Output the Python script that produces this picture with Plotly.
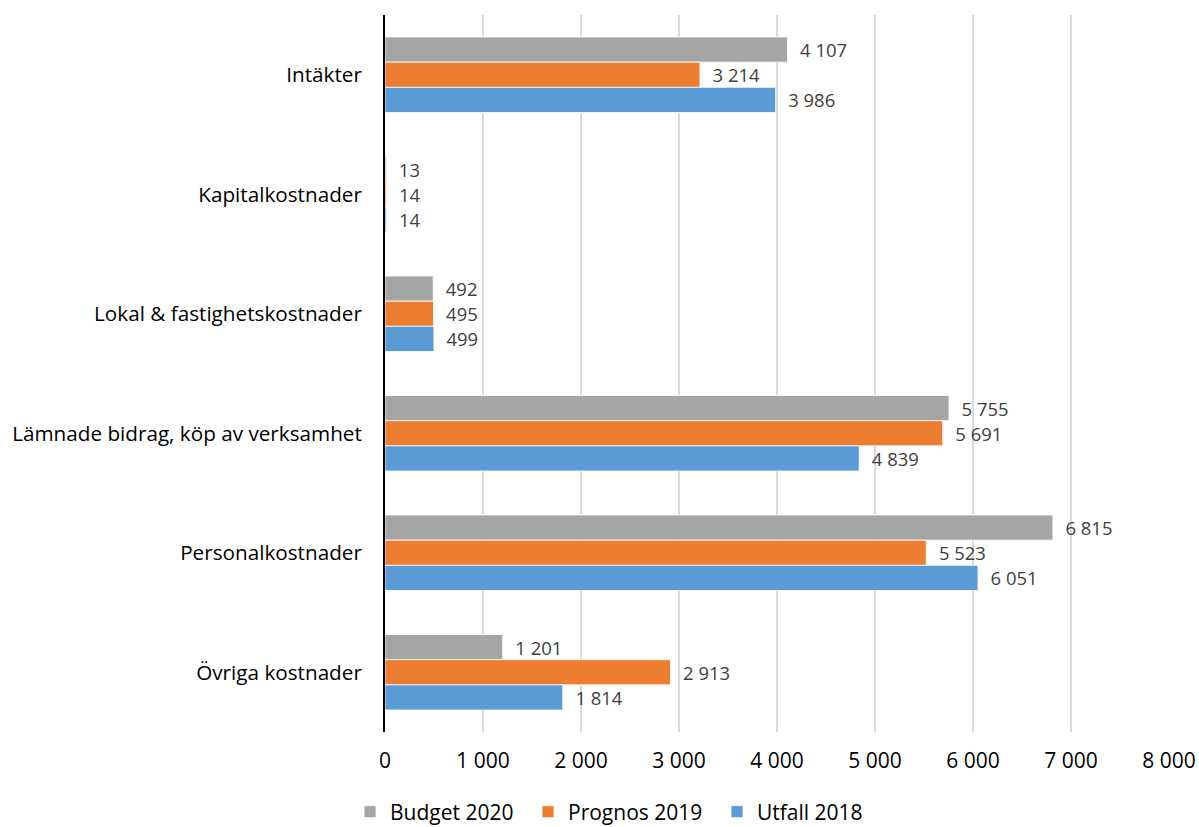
import plotly.graph_objects as go

categories = ["Intäkter", "Kapitalkostnader", "Lokal & fastighetskostnader",
              "Lämnade bidrag, köp av verksamhet", "Personalkostnader", "Övriga kostnader"]
budget_2020 = [4107, 13, 492, 5755, 6815, 1201]
prognos_2019 = [3214, 14, 495, 5691, 5523, 2913]
utfall_2018 = [3986, 14, 499, 4839, 6051, 1814]

series = [("Budget 2020", budget_2020, "#A5A5A5", "legend", 350),
          ("Prognos 2019", prognos_2019, "#ED7D31", "legend2", 528),
          ("Utfall 2018", utfall_2018, "#5B9BD5", "legend3", 717)]

FONT = "Open Sans, sans-serif"
L, R, T, B = 385, 30, 15, 95
W, H = 1199, 827
PW = W - L - R

fig = go.Figure()
legends = {}
for name, vals, color, leg, px in series:
    fig.add_trace(go.Bar(
        y=categories, x=vals, name=name, orientation="h",
        marker=dict(color=color, line=dict(color="white", width=0.8)),
        texttemplate="  %{x:,.0f}", textposition="outside",
        textfont=dict(family=FONT, size=22, color="#404040"),
        cliponaxis=False, legend=leg,
    ))
    legends[leg] = dict(orientation="h", x=(px - L) / PW, xanchor="left",
                        yref="container", y=1 - 812 / H, yanchor="middle",
                        font=dict(family=FONT, size=21, color="#000000"),
                        bgcolor="rgba(0,0,0,0)", borderwidth=0)

fig.update_layout(
    width=W, height=H,
    margin=dict(l=L, r=R, t=T, b=B, autoexpand=False),
    plot_bgcolor="white", paper_bgcolor="white",
    barmode="group", bargap=0.368, bargroupgap=0,
    separators=", ",
    font=dict(family=FONT, size=20, color="#000000"),
    showlegend=True,
    **legends,
)
fig.update_xaxes(range=[0, 8000], dtick=1000, tickformat=",.0f",
                 showgrid=True, gridcolor="#D9D9D9", gridwidth=1.5,
                 zeroline=False, showline=False, automargin=False,
                 tickfont=dict(family=FONT, size=21, color="#000000"),
                 ticklabelstandoff=14)
fig.update_yaxes(autorange="reversed", showgrid=False, zeroline=False,
                 showline=True, linecolor="#000000", linewidth=2, automargin=False,
                 tickfont=dict(family=FONT, size=20.7, color="#000000"),
                 ticklabelstandoff=17)

fig.write_html("out.html", config={"displayModeBar": False},
               post_script="document.body.style.margin='0';")
